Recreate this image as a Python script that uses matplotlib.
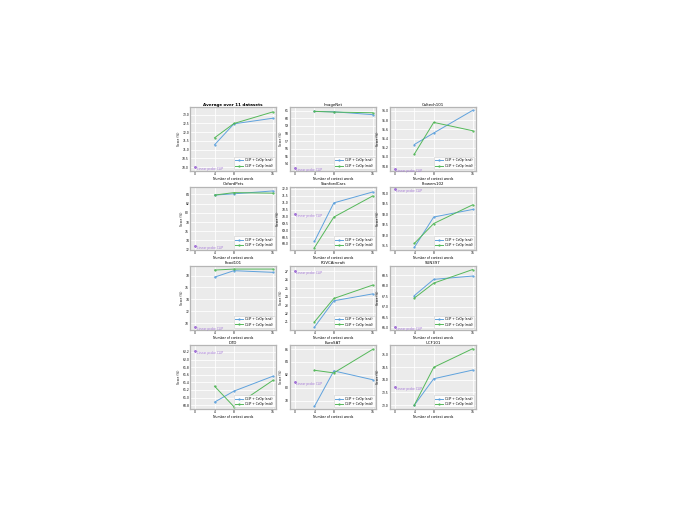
import numpy as np
import matplotlib.pyplot as plt
from matplotlib.ticker import MultipleLocator

# number of context words on the x axis
ctx = [4, 8, 16]
titles = ['Average over 11 datasets', 'ImageNet', 'Caltech101',
          'OxfordPets', 'StanfordCars', 'Flowers102',
          'Food101', 'FGVCAircraft', 'SUN397',
          'DTD', 'EuroSAT', 'UCF101']

# CoOp with class token at the end / in the middle
end_scores = [[71.28, 72.48, 72.80], [60.91, 60.87, 60.49], [95.27, 95.52, 96.01],
              [83.86, 84.14, 84.76], [68.18, 70.98, 71.77], [91.42, 92.87, 93.23],
              [77.73, 78.82, 78.54], [20.38, 23.50, 24.31], [67.53, 68.31, 68.47],
              [60.88, 61.17, 61.56], [77.09, 82.61, 81.24], [73.00, 74.04, 74.38]]
mid_scores = [[71.68, 72.50, 73.16], [60.93, 60.83, 60.74], [95.06, 95.75, 95.57],
              [83.86, 84.40, 84.28], [67.73, 69.95, 71.48], [91.61, 92.56, 93.45],
              [78.92, 79.09, 79.09], [21.00, 23.77, 25.35], [67.41, 68.13, 68.78],
              [61.30, 60.76, 61.45], [82.71, 82.30, 85.95], [73.00, 74.49, 75.22]]
probe_scores = [70.0, 53.5, 94.74, 72.7, 70.2, 94.19, 69.4, 27.0, 66.0, 62.23, 80.9, 73.7]

ystep = [0.5, 1, 0.2, 2, 0.5, 0.5, 2, 1, 0.5, 0.2, 2, 0.5]
ylims = [(69.8, 73.43), (53.1, 61.47), (94.7, 96.08), (71.9, 85.7), (67.55, 72.16), (91.29, 94.32),
         (68.9, 79.6), (20.1, 27.6), (65.9, 68.95), (60.7, 62.37), (76.7, 86.56), (72.85, 75.35)]

blue = '#5FA2DD'
green = '#55B85A'
purple = '#A678D8'

fig, axes = plt.subplots(4, 3, figsize=(6.77, 5.23), dpi=100)
plt.subplots_adjust(left=0.281, right=0.703, top=0.795, bottom=0.218, wspace=0.163, hspace=0.25)

for i, ax in enumerate(axes.flat):
    ax.set_facecolor('#EBEBEB')
    ax.grid(True, color='white', lw=0.6)
    ax.set_axisbelow(True)
    for s in ax.spines.values():
        s.set_color('#B5B5B5')
        s.set_linewidth(0.9)

    ax.plot(ctx, end_scores[i], color=blue, lw=0.7, marker='o', ms=0.6, label='CLIP + CoOp (end)')
    ax.plot(ctx, mid_scores[i], color=green, lw=0.7, marker='o', ms=0.6, label='CLIP + CoOp (mid)')
    ax.plot([0], [probe_scores[i]], marker='*', color=purple, ms=1.5, ls='none')
    ax.text(0.3, probe_scores[i], 'Linear probe CLIP', color=purple, fontsize=2.2, va='top', ha='left')

    ax.set_xlim(-1, 16.7)
    ax.set_xticks([0, 4, 8, 16])
    ax.set_ylim(*ylims[i])
    ax.yaxis.set_major_locator(MultipleLocator(ystep[i]))
    ax.ticklabel_format(axis='y', useOffset=False)
    ax.tick_params(labelsize=2.2, length=0, pad=0.8)

    if i == 0:
        ax.set_title(titles[i], fontsize=3.0, fontweight='bold', pad=1.2)
    else:
        ax.set_title(titles[i], fontsize=2.8, pad=1.2)
    ax.set_xlabel('Number of context words', fontsize=2.3, labelpad=0.6)
    ax.set_ylabel('Score (%)', fontsize=2.2, labelpad=1.2)
    leg = ax.legend(loc='lower right', fontsize=2.2, frameon=True, facecolor='white', edgecolor='#CCCCCC',
                    handlelength=2.5, borderpad=0.5, labelspacing=0.4, framealpha=0.9)
    leg.get_frame().set_linewidth(0.4)

plt.savefig('out.png', dpi=100)
